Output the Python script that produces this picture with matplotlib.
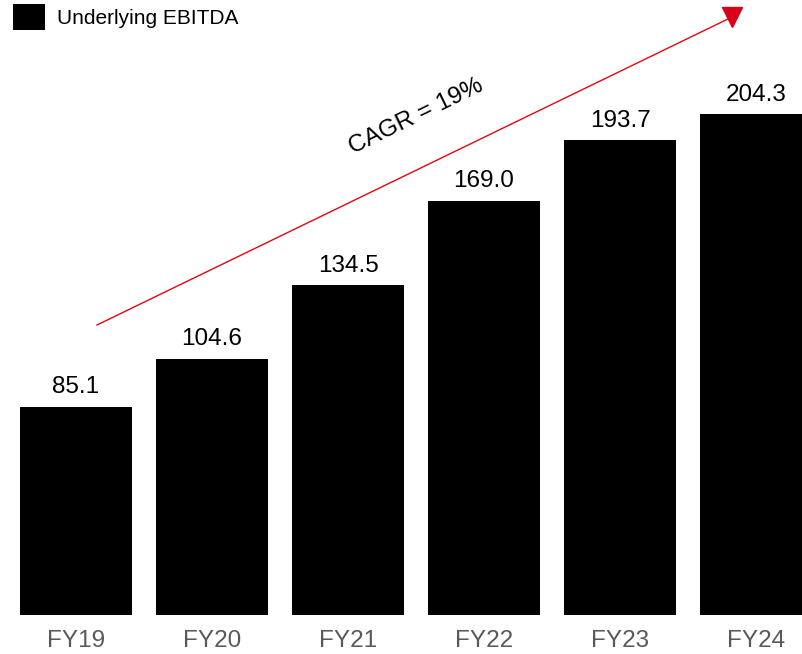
import numpy as np
import matplotlib
matplotlib.use('Agg')
import matplotlib.pyplot as plt

# data
years = ['FY19', 'FY20', 'FY21', 'FY22', 'FY23', 'FY24']
ebitda = [85.1, 104.6, 134.5, 169.0, 193.7, 204.3]
cagr_label = 'CAGR = 19%'
series_name = 'Underlying EBITDA'

plt.rcParams['font.family'] = ['Liberation Sans', 'DejaVu Sans']

fig = plt.figure(figsize=(8.02, 6.54), dpi=100)
# axes spans full width, baseline at y=615px
ax = fig.add_axes([0, 39 / 654, 1, 615 / 654])

x = np.arange(len(years))
bars = ax.bar(x, ebitda, width=0.824, color='black', label=series_name)

ax.set_xlim(-76 / 136, (802 - 76) / 136)
ax.set_ylim(0, 615 / 2.45)
ax.axis('off')


# pixel -> data helpers for annotations
def px(p):
    return (p - 76) / 136


def py(p):
    return (615 - p) / 2.45


for xi, v in zip(x, ebitda):
    ax.text(xi, v + 3.5, f'{v:.1f}', ha='center', va='bottom', fontsize=17.5, color='black')

# x labels
for xi, lab in zip(x, years):
    ax.text(xi, py(641), lab, ha='center', va='center', fontsize=17.5, color='#595959', clip_on=False)

# CAGR arrow
ax.plot([px(97), px(730)], [py(325), py(18)], color='#E30613', lw=1, clip_on=False)
ax.plot([px(732)], [py(17)], marker='v', markersize=15, color='#D9001B', clip_on=False)

ax.text(px(416), py(117), cagr_label, rotation=26, rotation_mode='anchor',
        ha='center', va='center', fontsize=17.5, color='black')

# legend
leg = ax.legend(loc='center left', bbox_to_anchor=(13 / 802, 1 - 17 / 654),
                bbox_transform=fig.transFigure, frameon=False,
                fontsize=15, handlelength=1.55, handleheight=1.6, handletextpad=0.55,
                borderaxespad=0, borderpad=0)

fig.savefig('out.png', dpi=100)
